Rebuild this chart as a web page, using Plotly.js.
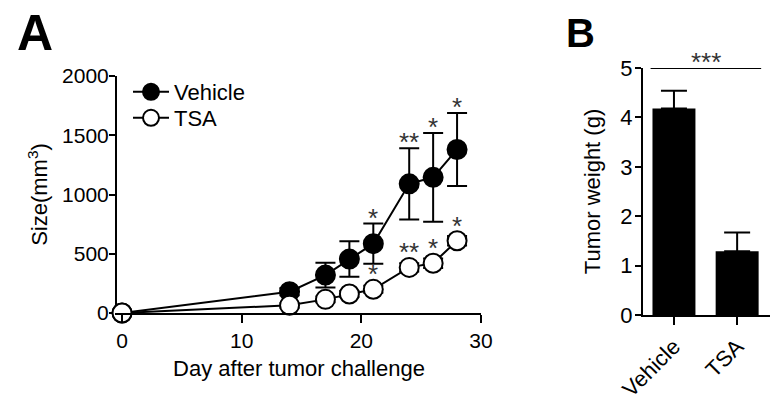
<!DOCTYPE html>
<html>
<head>
<meta charset="utf-8">
<script src="https://cdn.plot.ly/plotly-3.0.1.min.js"></script>
<style>
  html, body { margin: 0; padding: 0; background: #fff; }
  #chart { width: 780px; height: 402px; }
</style>
</head>
<body>
<div id="chart"></div>
<script>
// Panel A: tumour size over time
const days = [0, 14, 17, 19, 21, 24, 26, 28];
const vehicleSize = [0, 180, 320, 455, 585, 1090, 1145, 1380];
const vehicleErr = [0, 30, 105, 150, 170, 300, 375, 308];
const tsaSize = [0, 65, 115, 160, 200, 385, 420, 610];
const tsaErr = [0, 20, 25, 25, 30, 35, 40, 40];
const vehicleStars = ["", "", "", "", "*", "**", "*", "*"];
const tsaStars = ["", "", "", "", "*", "**", "*", "*"];

// Panel B: tumour weight
const groups = ["Vehicle", "TSA"];
const weight = [4.18, 1.29];
const weightErr = [0.36, 0.38];
const weightStars = "***";
const sigLevel = 5;

const font = "Arial, 'Liberation Sans', sans-serif";
const starFont = { family: font, size: 26, color: "#333" };

const traces = [
    {
        x: days, y: vehicleSize, name: "Vehicle", legend: "legend",
        type: "scatter", mode: "lines+markers",
        line: { color: "black", width: 2 },
        marker: { size: 19, color: "black", line: { color: "black", width: 2 } },
        error_y: { type: "data", array: vehicleErr, color: "black", thickness: 2, width: 10 },
        cliponaxis: false,
        xaxis: "x", yaxis: "y"
    },
    {
        x: days, y: tsaSize, name: "TSA", legend: "legend2",
        type: "scatter", mode: "lines+markers",
        line: { color: "black", width: 2 },
        marker: { size: 19, color: "white", line: { color: "black", width: 2 } },
        error_y: { type: "data", array: tsaErr, color: "black", thickness: 2, width: 10 },
        cliponaxis: false,
        xaxis: "x", yaxis: "y"
    },
    {
        x: groups, y: weight, type: "bar", showlegend: false,
        width: 0.68,
        marker: { color: "black" },
        error_y: { type: "data", symmetric: false, array: weightErr, arrayminus: [0, 0], color: "black", thickness: 2, width: 13 },
        xaxis: "x2", yaxis: "y2"
    }
];

const annotations = [];
days.forEach((d, i) => {
    if (vehicleStars[i]) {
        annotations.push({
            x: d, y: vehicleSize[i] + vehicleErr[i], xref: "x", yref: "y",
            text: vehicleStars[i], showarrow: false, yanchor: "middle", yshift: 6,
            font: starFont
        });
    }
    if (tsaStars[i]) {
        annotations.push({
            x: d, y: tsaSize[i], xref: "x", yref: "y",
            text: tsaStars[i], showarrow: false, yanchor: "middle", yshift: 15,
            font: starFont
        });
    }
});

annotations.push(
    { x: 0.5, y: sigLevel, xref: "x2", yref: "y2", text: weightStars, showarrow: false,
      yanchor: "middle", yshift: 6, font: starFont },
    { x: 15 / 780, y: 1 - 3 / 402, xref: "paper", yref: "paper", xanchor: "left", yanchor: "top",
      text: "<b>A</b>", showarrow: false, font: { family: font, size: 50, color: "black" } },
    { x: 564 / 780, y: 1 - 9 / 402, xref: "paper", yref: "paper", xanchor: "left", yanchor: "top",
      text: "<b>B</b>", showarrow: false, font: { family: font, size: 40, color: "black" } }
);

const axisBase = {
    showline: true, linecolor: "black", linewidth: 2,
    ticks: "outside", tickcolor: "black", tickwidth: 2,
    showgrid: false, zeroline: false,
    tickfont: { family: font, size: 21, color: "black" }
};

const legendBase = {
    xanchor: "left", yanchor: "middle", itemwidth: 36,
    bgcolor: "rgba(0,0,0,0)", font: { family: font, size: 22 }
};

const layout = {
    width: 780, height: 402,
    margin: { l: 0, r: 0, t: 0, b: 0 },
    paper_bgcolor: "white", plot_bgcolor: "white",
    font: { family: font, color: "black" },
    showlegend: true,
    legend: Object.assign({}, legendBase, { x: 128 / 780, y: 1 - 92 / 402 }),
    legend2: Object.assign({}, legendBase, { x: 128 / 780, y: 1 - 118 / 402 }),
    xaxis: Object.assign({}, axisBase, {
        domain: [117 / 780, 481 / 780], anchor: "y",
        range: [-0.42, 30], dtick: 10, ticklen: 8,
        title: { text: "Day after tumor challenge", font: { family: font, size: 22 }, standoff: 9 }
    }),
    yaxis: Object.assign({}, axisBase, {
        domain: [1 - 313 / 402, 1 - 76 / 402], anchor: "x",
        range: [0, 2000], dtick: 500, ticklen: 6, layer: "below traces",
        ticklabelstandoff: -4,
        title: { text: "Size(mm<sup>3</sup>)", font: { family: font, size: 22 }, standoff: 8 }
    }),
    xaxis2: Object.assign({}, axisBase, {
        domain: [643 / 780, 770 / 780], anchor: "y2",
        type: "category", range: [-0.49, 1.52], ticklen: 8, tickangle: -45,
        tickfont: { family: font, size: 22, color: "black" }
    }),
    yaxis2: Object.assign({}, axisBase, {
        domain: [1 - 315 / 402, 1 - 68 / 402], anchor: "x2",
        range: [0, 5], dtick: 1, ticklen: 6, ticklabelstandoff: -2,
        tickfont: { family: font, size: 22, color: "black" },
        title: { text: "Tumor weight (g)", font: { family: font, size: 22 }, standoff: 14 }
    }),
    shapes: [
        { type: "line", xref: "x2", yref: "y2", x0: -0.37, x1: groups.length - 1 + 0.38,
          y0: sigLevel, y1: sigLevel, line: { color: "black", width: 2 } }
    ],
    annotations: annotations
};

Plotly.newPlot("chart", traces, layout, { displayModeBar: false, staticPlot: true });
</script>
</body>
</html>
